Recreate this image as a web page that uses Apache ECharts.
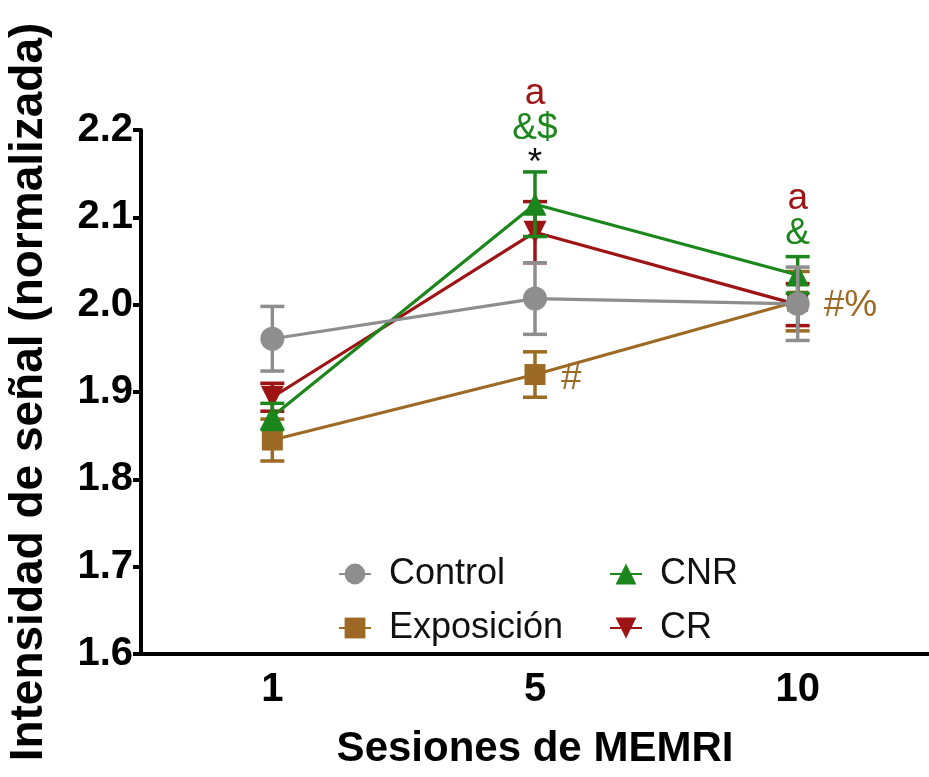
<!DOCTYPE html>
<html>
<head>
<meta charset="utf-8">
<script src="https://cdn.jsdelivr.net/npm/echarts@6/dist/echarts.min.js"></script>
<style>
  html, body { margin: 0; padding: 0; background: #ffffff; }
  #chart { width: 929px; height: 777px; }
</style>
</head>
<body>
<div id="chart"></div>
<script>
// MEMRI sessions on the x axis
const sessions = ['1', '5', '10'];

// Normalized signal intensity: mean and SEM per group
const controlMean = [1.961, 2.007, 2.001];
const controlSem  = [0.037, 0.041, 0.042];
const exposMean   = [1.845, 1.920, 2.004];
const exposSem    = [0.024, 0.026, 0.034];
const cnrMean     = [1.872, 2.115, 2.034];
const cnrSem      = [0.015, 0.037, 0.021];
const crMean      = [1.894, 2.083, 2.000];
const crSem       = [0.016, 0.035, 0.024];

// y axis ticks
const yTicks = [1.6, 1.7, 1.8, 1.9, 2.0, 2.1, 2.2];

// Significance marks stacked above the error bars (bottom to top), by group
const sigSessions = ['5', '10'];
const sigStacks = [
  [['*', 'none'], ['&$', 'CNR'], ['a', 'CR']],
  [['&', 'CNR'], ['a', 'CR']]
];
// Marks written beside the Exposición points
const exposMarkSessions = ['5', '10'];
const exposMarks = ['#', '#%'];

const COLORS = {
  Control: '#8e8e8e',
  'Exposición': '#9c6a24',
  CNR: '#1b861b',
  CR: '#9e1414',
  none: '#111111'
};
const FONT = '"Liberation Sans", Arial, Helvetica, sans-serif';

const groups = [
  { name: 'Exposición', mean: exposMean, sem: exposSem, symbol: 'rect', size: 21, rotate: 0, z: 2 },
  { name: 'CR', mean: crMean, sem: crSem, symbol: 'triangle', size: 23, rotate: 180, z: 3 },
  { name: 'CNR', mean: cnrMean, sem: cnrSem, symbol: 'triangle', size: 23, rotate: 0, z: 4 },
  { name: 'Control', mean: controlMean, sem: controlSem, symbol: 'circle', size: 24, rotate: 0, z: 5 }
];

function errorBarSeries(g) {
  const color = COLORS[g.name];
  return {
    type: 'custom',
    name: g.name + ' SEM',
    z: g.z,
    silent: true,
    data: sessions.map((s, i) => [i, g.mean[i] - g.sem[i], g.mean[i] + g.sem[i]]),
    renderItem: function (params, api) {
      const lo = api.coord([api.value(0), api.value(1)]);
      const hi = api.coord([api.value(0), api.value(2)]);
      const half = 12;
      const style = { stroke: color, lineWidth: 3.5 };
      return {
        type: 'group',
        children: [
          { type: 'line', shape: { x1: lo[0], y1: lo[1], x2: hi[0], y2: hi[1] }, style: style },
          { type: 'line', shape: { x1: lo[0] - half, y1: lo[1], x2: lo[0] + half, y2: lo[1] }, style: style },
          { type: 'line', shape: { x1: hi[0] - half, y1: hi[1], x2: hi[0] + half, y2: hi[1] }, style: style }
        ]
      };
    }
  };
}

function lineSeries(g) {
  const color = COLORS[g.name];
  return {
    type: 'line',
    name: g.name,
    z: g.z,
    data: g.mean,
    symbol: g.symbol,
    symbolSize: g.size,
    symbolRotate: g.rotate,
    showAllSymbol: true,
    lineStyle: { color: color, width: 3.2 },
    itemStyle: { color: color, opacity: 1 },
    emphasis: { disabled: true },
    animation: false
  };
}

// Highest error-bar top at each session, used to stack the significance marks
function topAt(idx) {
  return Math.max.apply(null, groups.map(g => g.mean[idx] + g.sem[idx]));
}

const sigSeries = {
  type: 'custom',
  name: 'sig',
  z: 10,
  silent: true,
  data: sigSessions.map((s, k) => [sessions.indexOf(s), topAt(sessions.indexOf(s)), k]),
  renderItem: function (params, api) {
    const p = api.coord([api.value(0), api.value(1)]);
    const stack = sigStacks[api.value(2)];
    // the asterisk glyph sits high in its line, so it starts lower than other marks
    const start = stack[0][0] === '*' ? 10 : -4;
    return {
      type: 'group',
      children: stack.map((item, j) => ({
        type: 'text',
        style: {
          text: item[0],
          x: p[0],
          y: p[1] + start - j * 35,
          fill: COLORS[item[1]],
          font: '37px ' + FONT,
          align: 'center',
          verticalAlign: 'bottom'
        }
      }))
    };
  }
};

const exposMarkSeries = {
  type: 'custom',
  name: 'exposMarks',
  z: 10,
  silent: true,
  data: exposMarkSessions.map((s, k) => {
    const i = sessions.indexOf(s);
    return [i, exposMean[i], k];
  }),
  renderItem: function (params, api) {
    const p = api.coord([api.value(0), api.value(1)]);
    return {
      type: 'text',
      style: {
        text: exposMarks[api.value(2)],
        x: p[0] + 26,
        y: p[1] + 23,
        fill: COLORS['Exposición'],
        font: '37px ' + FONT,
        align: 'left',
        verticalAlign: 'bottom'
      }
    };
  }
};

const legendText = {
  fontFamily: FONT,
  fontSize: 36,
  color: '#111111',
  padding: [0, 0, 0, 13],
  lineHeight: 36
};

const chart = echarts.init(document.getElementById('chart'), null, { renderer: 'canvas' });
chart.setOption({
  animation: false,
  backgroundColor: '#ffffff',
  grid: { left: 141, right: 0, top: 130, bottom: 123, containLabel: false, outerBoundsMode: 'none' },
  legend: [
    {
      data: ['Control', 'Exposición'],
      orient: 'vertical',
      left: 333, top: 551,
      itemWidth: 32, itemHeight: 26, itemGap: 18,
      textStyle: legendText,
      selectedMode: false
    },
    {
      data: ['CNR', 'CR'],
      orient: 'vertical',
      left: 604, top: 551,
      itemWidth: 32, itemHeight: 26, itemGap: 18,
      textStyle: legendText,
      selectedMode: false
    }
  ],
  xAxis: {
    type: 'category',
    data: sessions,
    boundaryGap: true,
    name: 'Sesiones de MEMRI',
    nameLocation: 'middle',
    nameGap: 74,
    nameTextStyle: { fontFamily: FONT, fontSize: 42, fontWeight: 'bold', color: '#000' },
    axisLine: { lineStyle: { color: '#000', width: 4 } },
    axisTick: { alignWithLabel: true, length: 9, lineStyle: { color: '#000', width: 4 } },
    axisLabel: { fontFamily: FONT, fontSize: 40, fontWeight: 'bold', color: '#000', margin: 16 },
    splitLine: { show: false }
  },
  yAxis: {
    type: 'value',
    min: 1.6, max: 2.2, interval: 0.1,
    name: 'Intensidad de señal (normalizada)',
    nameLocation: 'middle',
    nameGap: 89,
    nameTextStyle: { fontFamily: FONT, fontSize: 46, fontWeight: 'bold', color: '#000' },
    axisLine: { show: true, lineStyle: { color: '#000', width: 4 } },
    axisTick: { show: true, length: 8, lineStyle: { color: '#000', width: 4 } },
    axisLabel: {
      fontFamily: FONT, fontSize: 40, fontWeight: 'bold', color: '#000', margin: 8,
      formatter: v => yTicks.some(t => Math.abs(t - v) < 1e-6) ? v.toFixed(1) : ''
    },
    splitLine: { show: false }
  },
  series: groups.map(errorBarSeries)
    .concat(groups.map(lineSeries))
    .concat([sigSeries, exposMarkSeries])
});
</script>
</body>
</html>
